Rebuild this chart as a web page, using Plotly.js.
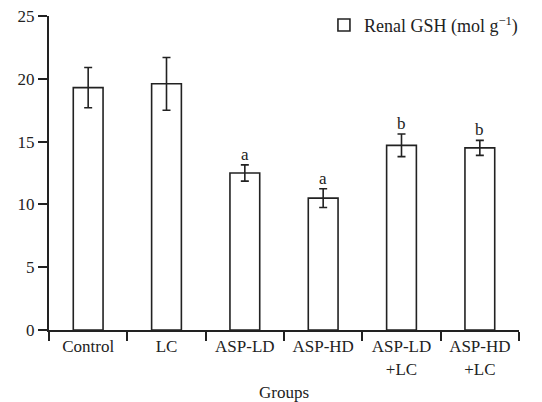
<!DOCTYPE html>
<html>
<head>
<meta charset="utf-8">
<script src="https://cdn.plot.ly/plotly-3.0.1.min.js"></script>
<style>html,body{margin:0;padding:0;background:#fff;}#chart{width:542px;height:402px;}</style>
</head>
<body>
<div id="chart"></div>
<script>
const groups = ["Control", "LC", "ASP-LD", "ASP-HD", "ASP-LD<br>+LC", "ASP-HD<br>+LC"];
const gshValues = [19.3, 19.6, 12.5, 10.5, 14.7, 14.5];
const gshErrors = [1.6, 2.1, 0.65, 0.75, 0.9, 0.6];
const sigLetters = ["", "", "a", "a", "b", "b"];
const yTicks = [0, 5, 10, 15, 20, 25];

const font = {family: "Liberation Serif, Times New Roman, serif", size: 17, color: "#222"};
const legendFont = {family: "Liberation Serif, Times New Roman, serif", size: 18, color: "#222"};

const trace = {
  type: "bar",
  x: groups,
  y: gshValues,
  name: "Renal GSH (mol g<sup>\u22121</sup>)",
  width: 0.38,
  marker: {color: "#ffffff", line: {color: "#222", width: 1.6}},
  error_y: {type: "data", array: gshErrors, visible: true, color: "#222", thickness: 1.6, width: 4},
  showlegend: true
};

const annotations = [];
groups.forEach((g, i) => {
  if (sigLetters[i]) {
    annotations.push({
      x: g, y: gshValues[i] + gshErrors[i], xref: "x", yref: "y",
      text: sigLetters[i], showarrow: false, yanchor: "bottom", yshift: -1,
      font: font
    });
  }
});

const layout = {
  width: 542, height: 402,
  margin: {l: 49, r: 23, t: 16, b: 72, autoexpand: false},
  paper_bgcolor: "#fff", plot_bgcolor: "#fff",
  font: font,
  showlegend: true,
  legend: {x: 0.585, y: 0.983, yref: "container", xanchor: "left", yanchor: "top", bgcolor: "rgba(0,0,0,0)", font: legendFont, itemwidth: 30},
  xaxis: {
    type: "category",
    showline: true, linecolor: "#222", linewidth: 2,
    ticks: "outside", ticklen: 9, tickwidth: 2, tickcolor: "#222",
    tickson: "boundaries",
    showgrid: false, zeroline: false,
    tickfont: font,
    title: {text: "Groups", font: font, standoff: 10}
  },
  yaxis: {
    range: [0, 25], tickvals: yTicks,
    showline: true, linecolor: "#222", linewidth: 2,
    ticks: "outside", ticklen: 9, tickwidth: 2, tickcolor: "#222",
    showgrid: false, zeroline: false,
    tickfont: font
  },
  annotations: annotations
};

Plotly.newPlot("chart", [trace], layout, {displayModeBar: false, staticPlot: true});
</script>
</body>
</html>
